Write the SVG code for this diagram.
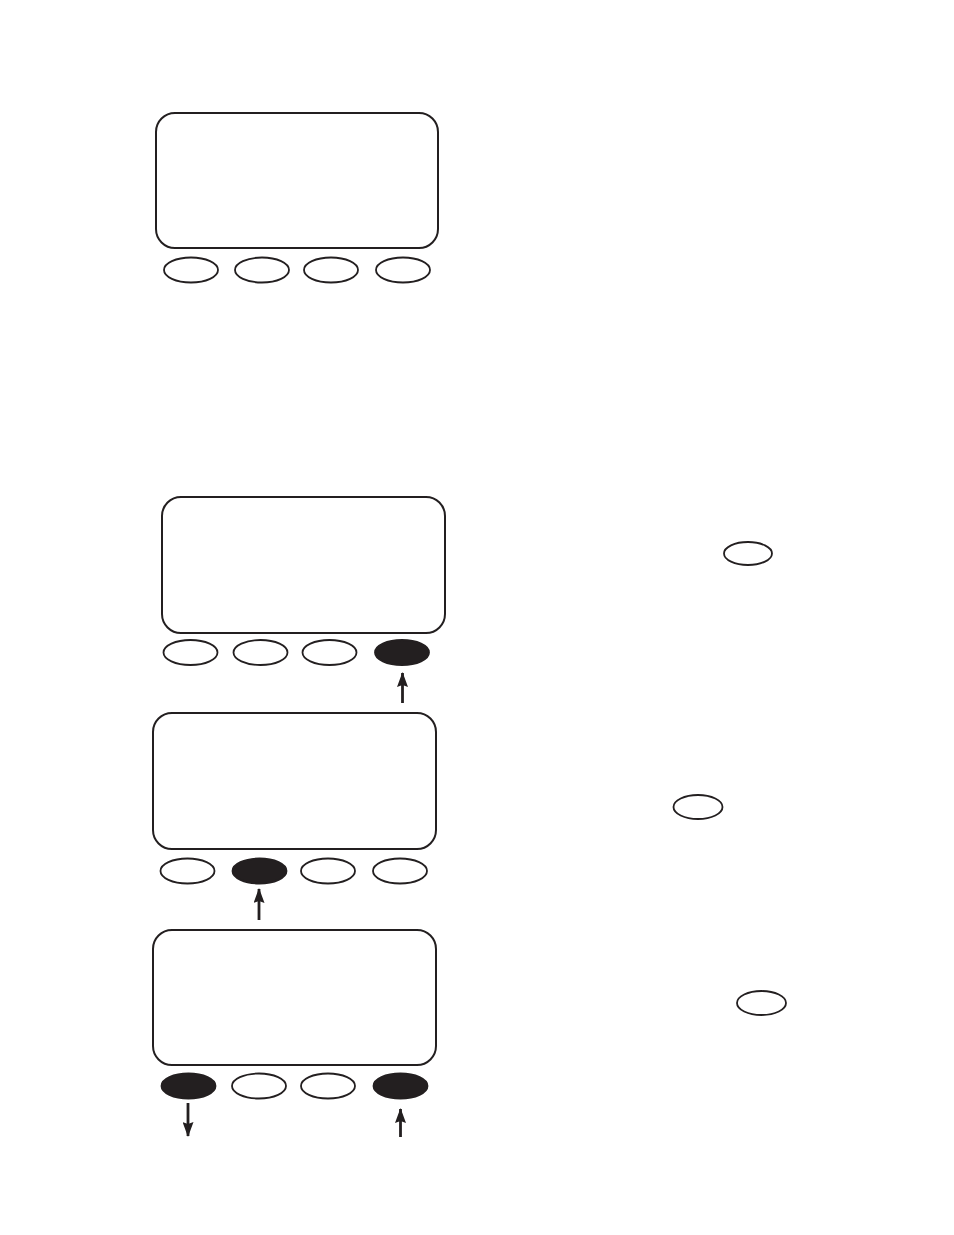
<svg xmlns="http://www.w3.org/2000/svg" width="954" height="1235" viewBox="0 0 954 1235">
<style>
.scr{fill:#fff;stroke:#231f20;stroke-width:2}
.btn{fill:#fff;stroke:#231f20;stroke-width:1.8}
.on{fill:#231f20;stroke:#231f20;stroke-width:1.8}
.arr{stroke:#231f20;stroke-width:2.8;fill:none}
</style>
<defs>
<marker id="ah" viewBox="0 0 15 11" refX="14" refY="5.5" markerWidth="15" markerHeight="11" markerUnits="userSpaceOnUse" orient="auto">
<path d="M0,0 L15,5.5 L0,11 L2,5.5 z" fill="#231f20"/>
</marker>
</defs>
<rect width="954" height="1235" fill="#fff"/>
<g id="panel1">
<rect class="scr" x="156" y="113" width="282" height="135" rx="19"/>
<ellipse class="btn" cx="191" cy="270" rx="27" ry="12.5"/>
<ellipse class="btn" cx="262" cy="270" rx="27" ry="12.5"/>
<ellipse class="btn" cx="331" cy="270" rx="27" ry="12.5"/>
<ellipse class="btn" cx="403" cy="270" rx="27" ry="12.5"/>
</g>
<g id="panel2">
<rect class="scr" x="162" y="497" width="283" height="136" rx="19"/>
<ellipse class="btn" cx="190.5" cy="652.5" rx="27" ry="12.5"/>
<ellipse class="btn" cx="260.5" cy="652.5" rx="27" ry="12.5"/>
<ellipse class="btn" cx="329.5" cy="652.5" rx="27" ry="12.5"/>
<ellipse class="on" cx="402" cy="652.5" rx="27" ry="12.5"/>
</g>
<g id="key1"><ellipse class="btn" cx="748" cy="553.5" rx="24" ry="11.5"/></g>
<g id="panel3">
<rect class="scr" x="153" y="713" width="283" height="136" rx="19"/>
<ellipse class="btn" cx="187.5" cy="871" rx="27" ry="12.5"/>
<ellipse class="on" cx="259.5" cy="871" rx="27" ry="12.5"/>
<ellipse class="btn" cx="328" cy="871" rx="27" ry="12.5"/>
<ellipse class="btn" cx="400" cy="871" rx="27" ry="12.5"/>
</g>
<g id="key2"><ellipse class="btn" cx="698" cy="807" rx="24.5" ry="12"/></g>
<g id="panel4">
<rect class="scr" x="153" y="930" width="283" height="135" rx="19"/>
<ellipse class="on" cx="188.5" cy="1086" rx="27" ry="12.5"/>
<ellipse class="btn" cx="259" cy="1086" rx="27" ry="12.5"/>
<ellipse class="btn" cx="328" cy="1086" rx="27" ry="12.5"/>
<ellipse class="on" cx="400.5" cy="1086" rx="27" ry="12.5"/>
</g>
<g id="key3"><ellipse class="btn" cx="761.5" cy="1003" rx="24.5" ry="12"/></g>
<g id="connectors">
<line class="arr" x1="402.5" y1="703" x2="402.5" y2="673" marker-end="url(#ah)"/>
<line class="arr" x1="259" y1="920" x2="259" y2="889" marker-end="url(#ah)"/>
<line class="arr" x1="188" y1="1103" x2="188" y2="1136" marker-end="url(#ah)"/>
<line class="arr" x1="400.5" y1="1137" x2="400.5" y2="1109" marker-end="url(#ah)"/>
</g>
</svg>
